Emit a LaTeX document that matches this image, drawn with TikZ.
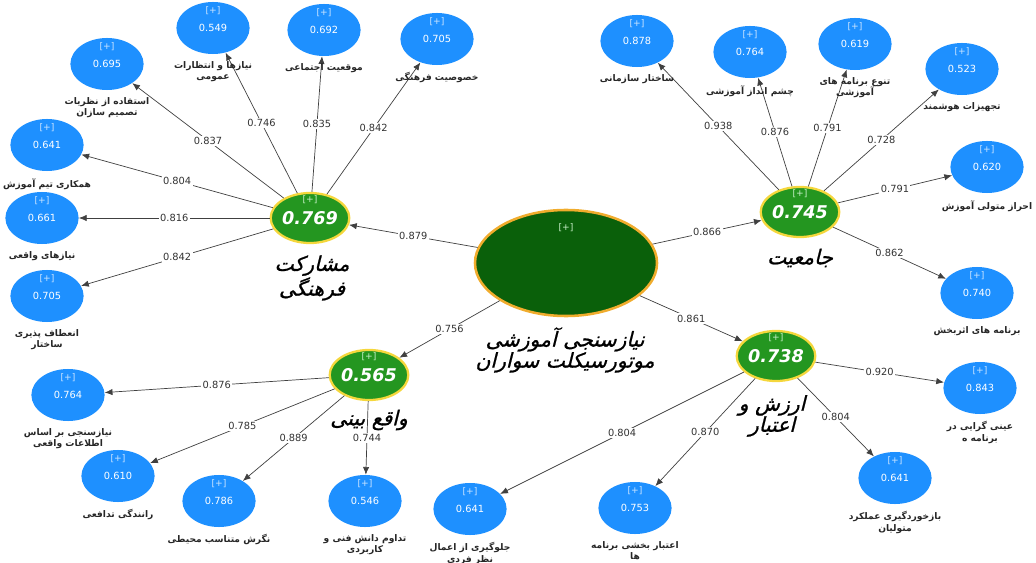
\documentclass[tikz,border=0pt]{standalone}
\usepackage{fontspec}
\setmainfont{DejaVu Sans}
\newfontfamily\arabicfont[Script=Arabic]{DejaVu Sans}
\newfontfamily\arabicslant[Script=Arabic,FakeSlant=0.25,FakeBold=1]{DejaVu Sans}
\TeXXeTstate=1
\usetikzlibrary{shapes.geometric,arrows.meta,positioning}
\definecolor{indblue}{RGB}{30,144,255}
\definecolor{plusblue}{RGB}{205,230,255}
\definecolor{latgreen}{RGB}{36,150,32}
\definecolor{pluslat}{RGB}{200,240,200}
\definecolor{latrim}{RGB}{245,215,60}
\definecolor{rootgreen}{RGB}{10,96,10}
\definecolor{rootrim}{RGB}{240,172,45}
\newcommand{\rtl}[1]{\beginR #1\endR}
\begin{document}
\begin{tikzpicture}[x=0.025cm,y=-0.025cm,
plus/.style={anchor=north,inner sep=0pt,font=\fontsize{6.5}{7}\selectfont},
ind/.style={ellipse,fill=indblue,minimum width=1.83cm,minimum height=1.3cm,inner sep=0pt,text=white,font=\fontsize{7}{8}\selectfont,label={[plus,text=plusblue,yshift=-3.5pt]north:{[+]}}},
lat/.style={ellipse,fill=latgreen,draw=latrim,line width=1.6pt,minimum width=1.75cm,minimum height=1.25cm,inner sep=0pt,text=white,font=\fontsize{12.5}{14}\bfseries\itshape,label={[plus,text=pluslat,yshift=-2.5pt]north:{[+]}}},
root/.style={ellipse,fill=rootgreen,draw=rootrim,line width=1.8pt,minimum width=4.55cm,minimum height=2.65cm,label={[plus,text=pluslat,yshift=-10pt]north:{[+]}}},
txt/.style={font=\fontsize{6.5}{8}\arabicfont\bfseries,align=center,text=black!85,inner sep=1pt},
big/.style={font=\fontsize{14.5}{15}\arabicslant,align=center,inner sep=0pt},
link/.style={-{Latex[length=5.5pt,width=4.5pt]},draw=black!75,line width=0.5pt},
coef/.style={fill=white,text=black!80,font=\fontsize{7}{8}\selectfont,inner sep=1pt}]
\useasboundingbox (0,0) rectangle (1036,563);

\node[root] (root) at (566,263) {};
\node[lat] (MF) at (310,218) {0.769};
\node[lat] (JM) at (800,212) {0.745};
\node[lat] (AE) at (776,356) {0.738};
\node[lat] (WB) at (369,375) {0.565};

\foreach \n/\x/\y/\v in {a1/107/64/0.695,a2/213/28/0.549,a3/324/30/0.692,a4/437/39/0.705,a5/47/145/0.641,a6/42/218/0.661,a7/47/296/0.705,
b1/637/41/0.878,b2/750/52/0.764,b3/855/44/0.619,b4/962/69/0.523,b5/987/167/0.620,b6/977/293/0.740,
c1/980/388/0.843,c2/895/478/0.641,c3/635/508/0.753,c4/470/509/0.641,
d1/68/395/0.764,d2/118/476/0.610,d3/219/501/0.786,d4/365/501/0.546}
{
\node[ind] (\n) at (\x,\y) {\v};
}

\foreach \s/\t/\v in {MF/a1/0.837,MF/a2/0.746,MF/a3/0.835,MF/a4/0.842,MF/a5/0.804,MF/a6/0.816,MF/a7/0.842,
JM/b1/0.938,JM/b2/0.876,JM/b3/0.791,JM/b4/0.728,JM/b5/0.791,JM/b6/0.862,
AE/c1/0.920,AE/c2/0.804,AE/c3/0.870,AE/c4/0.804,
WB/d1/0.876,WB/d2/0.785,WB/d3/0.889,WB/d4/0.744,
root/MF/0.879,root/JM/0.866,root/AE/0.861,root/WB/0.756}
{
\draw[link] (\s) -- node[coef]{\v} (\t);
}

\foreach \n/\p in {a3/موقعیت اجتماعی,a4/خصوصیت فرهنگی,a5/همکاری تیم آموزش,a6/نیازهای واقعی,
b1/ساختار سازمانی,b2/چشم انداز آموزشی,b4/تجهیزات هوشمند,b5/احراز متولی آموزش,b6/برنامه های اثربخش,
d2/رانندگی تدافعی,d3/نگرش متناسب محیطی}
{
\node[txt,below=4pt of \n] (\n-t) {\rtl{\p}};
}

\foreach \n/\p/\q in {a1/استفاده از نظریات/تصمیم سازان,a2/نیازها و انتظارات/عمومی,a7/انعطاف پذیری/ساختار,
b3/تنوع برنامه های/آموزشی,c1/عینی گرایی در/برنامه ه,c2/بازخوردگیری عملکرد/متولیان,
c3/اعتبار بخشی برنامه/ها,c4/جلوگیری از اعمال/نظر فردی,d1/نیازسنجی بر اساس/اطلاعات واقعی,d4/تداوم دانش فنی و/کاربردی}
{
\node[txt,below=4pt of \n] (\n-t) {\rtl{\p}\\\rtl{\q}};
}

\node[big] (MF-t) at (312,278) {\rtl{مشارکت}\\\rtl{فرهنگی}};
\node[big] (JM-t) at (800,258) {\rtl{جامعیت}};
\node[big] (AE-t) at (772,416) {\rtl{ارزش و}\\\rtl{اعتبار}};
\node[big] (WB-t) at (369,420) {\rtl{واقع بینی}};
\node[big] (root-t) at (565,350) {\rtl{نیازسنجی آموزشی}\\\rtl{موتورسیکلت سواران}};
\end{tikzpicture}
\end{document}
